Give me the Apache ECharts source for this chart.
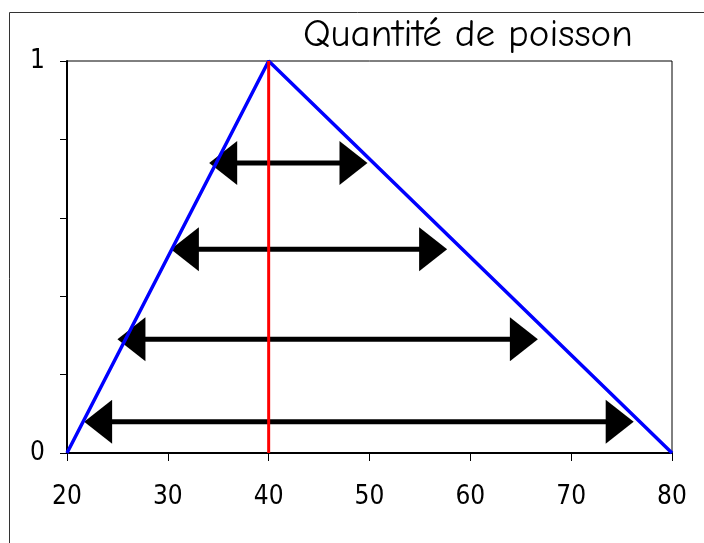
<!DOCTYPE html>
<html>
<head>
<meta charset="utf-8">
<script src="https://cdn.jsdelivr.net/npm/echarts@6/dist/echarts.min.js"></script>
<style>
  html, body { margin: 0; padding: 0; background: #fff; overflow: hidden; }
  #chart { width: 704px; height: 543px; }
</style>
</head>
<body>
<div id="chart"></div>
<script>
// Triangular membership function of the fish quantity
const fuzzyX = [20, 40, 80];
const fuzzyY = [0, 1, 0];
// Mode (core) of the fuzzy number
const modeX = 40;
// Alpha-cut intervals drawn as double arrows
const cutLevels = [0.74, 0.52, 0.29, 0.08];
const cutLeft = [34.1, 30.3, 25.0, 21.7];
const cutRight = [49.8, 57.7, 66.7, 76.2];
// Axis tick labels
const xTicks = [20, 30, 40, 50, 60, 70, 80];
const yLabelled = [0, 1];

const titleText = 'Quantité de poisson';
const labelFont = '"Liberation Sans Narrow", "DejaVu Sans Condensed", "Liberation Sans", sans-serif';
const titleFont = '"Comic Sans MS", "Comic Neue", "Noto Sans", sans-serif';

const chart = echarts.init(document.getElementById('chart'), null, { renderer: 'canvas' });

const membership = fuzzyX.map((x, i) => [x, fuzzyY[i]]);
const coreLine = [[modeX, 0], [modeX, 1]];
const cuts = cutLevels.map((lv, i) => [cutLeft[i], cutRight[i], lv]);

// Double-headed arrow with flat triangular heads
function renderArrow(params, api) {
  const lv = api.value(2);
  const a = api.coord([api.value(0), lv]);
  const b = api.coord([api.value(1), lv]);
  const headLen = 28, headHalf = 22;
  return {
    type: 'group',
    children: [
      {
        type: 'line',
        shape: { x1: a[0] + headLen - 1, y1: a[1], x2: b[0] - headLen + 1, y2: b[1] },
        style: { stroke: '#000', lineWidth: 5 }
      },
      {
        type: 'polygon',
        shape: { points: [[a[0], a[1]], [a[0] + headLen, a[1] - headHalf], [a[0] + headLen, a[1] + headHalf]] },
        style: { fill: '#000' }
      },
      {
        type: 'polygon',
        shape: { points: [[b[0], b[1]], [b[0] - headLen, b[1] - headHalf], [b[0] - headLen, b[1] + headHalf]] },
        style: { fill: '#000' }
      }
    ]
  };
}

chart.setOption({
  animation: false,
  backgroundColor: '#fff',
  graphic: [
    // outer frame: top and left edges only
    {
      type: 'line',
      shape: { x1: 9.5, y1: 12.5, x2: 720, y2: 12.5 },
      style: { stroke: '#333', lineWidth: 1 },
      silent: true
    },
    {
      type: 'line',
      shape: { x1: 9.5, y1: 12.5, x2: 9.5, y2: 560 },
      style: { stroke: '#333', lineWidth: 1 },
      silent: true
    }
  ],
  title: {
    text: titleText,
    left: 298,
    top: 10,
    textStyle: { fontFamily: titleFont, fontSize: 39, fontWeight: 'normal', color: '#000' }
  },
  grid: {
    left: 67, right: 32, top: 61, bottom: 90,
    show: true, borderColor: '#000', borderWidth: 1, backgroundColor: 'transparent'
  },
  xAxis: {
    type: 'value',
    min: xTicks[0], max: xTicks[xTicks.length - 1], interval: 10,
    splitLine: { show: false },
    axisLine: { show: true, onZero: false, lineStyle: { color: '#000', width: 2 } },
    axisTick: { show: true, length: 8, lineStyle: { color: '#000', width: 1 } },
    axisLabel: {
      margin: 31, color: '#000', fontSize: 26, fontFamily: labelFont,
      formatter: v => (xTicks.includes(v) ? String(v) : '')
    }
  },
  yAxis: {
    type: 'value',
    min: 0, max: 1, interval: 0.2,
    splitLine: { show: false },
    axisLine: { show: true, onZero: false, lineStyle: { color: '#000', width: 2 } },
    axisTick: { show: true, length: 7, lineStyle: { color: '#000', width: 1 } },
    axisLabel: {
      margin: 22, color: '#000', fontSize: 26, fontFamily: labelFont,
      formatter: v => (yLabelled.some(t => Math.abs(t - v) < 1e-9) ? String(Math.round(v)) : '')
    }
  },
  series: [
    {
      type: 'custom',
      renderItem: renderArrow,
      data: cuts,
      encode: { x: [0, 1], y: 2 },
      z: 1,
      clip: false
    },
    {
      type: 'line',
      data: membership,
      symbol: 'none',
      lineStyle: { color: '#0000ff', width: 3.5 },
      z: 3
    },
    {
      type: 'line',
      data: coreLine,
      symbol: 'none',
      lineStyle: { color: '#ff0000', width: 3 },
      z: 4
    }
  ]
});
</script>
</body>
</html>
